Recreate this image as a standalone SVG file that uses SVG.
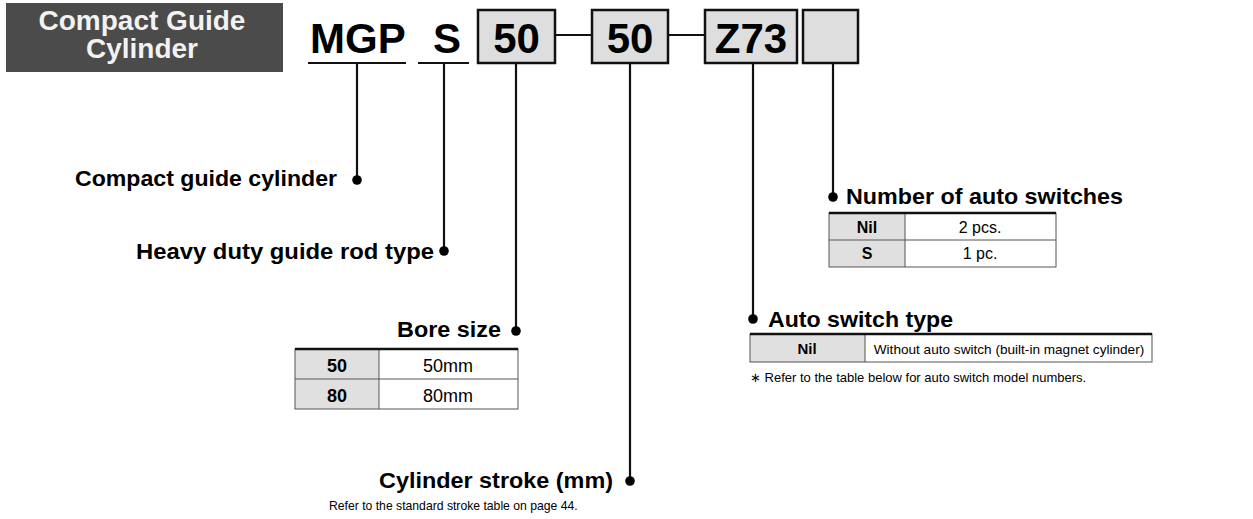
<svg xmlns="http://www.w3.org/2000/svg" width="1253" height="519" viewBox="0 0 1253 519">
<style>
.lbl{font-family:"Liberation Sans",Arial,sans-serif;font-weight:bold;font-size:22px;fill:#000}
.code{font-family:"Liberation Sans",Arial,sans-serif;font-weight:bold;font-size:42px;fill:#000}
.cellb{font-family:"Liberation Sans",Arial,sans-serif;font-weight:bold;fill:#000;text-anchor:middle}
.cell{font-family:"Liberation Sans",Arial,sans-serif;fill:#000;text-anchor:middle}
.note{font-family:"Liberation Sans",Arial,sans-serif;font-size:12.2px;fill:#000}
.hdt{font-family:"Liberation Sans",Arial,sans-serif;font-weight:bold;font-size:28px;fill:#f2f2f2;text-anchor:middle}
.box{fill:#dedede;stroke:#111;stroke-width:2.5}
.ln{stroke:#111;stroke-width:2.2;fill:none}
.hd{fill:#e0e0e0}
.grid{stroke:#555;stroke-width:1;fill:none}
.top{stroke:#111;stroke-width:2.5}
</style>
<g id="header">
<rect x="6" y="3" width="277" height="69" fill="#4b4b4b"/>
<text class="hdt" x="142" y="30">Compact Guide</text>
<text class="hdt" x="142" y="58">Cylinder</text>
</g>
<g id="code-mgp">
<text class="code" x="310" y="53">MGP</text>
<line class="ln" x1="308" y1="63" x2="406" y2="63"/>
</g>
<g id="code-s">
<text class="code" x="433" y="53">S</text>
<line class="ln" x1="418" y1="63" x2="469" y2="63"/>
</g>
<g id="code-bore">
<rect class="box" x="478" y="10" width="77" height="53"/>
<text class="code" x="516.5" y="53" text-anchor="middle">50</text>
</g>
<g id="code-stroke">
<rect class="box" x="592" y="10" width="76" height="53"/>
<text class="code" x="630" y="53" text-anchor="middle">50</text>
</g>
<g id="code-switch">
<rect class="box" x="705" y="10" width="92" height="53"/>
<text class="code" x="751" y="53" text-anchor="middle">Z73</text>
</g>
<g id="code-number">
<rect class="box" x="803" y="10" width="55" height="53"/>
</g>
<g id="connectors">
<line class="ln" x1="555" y1="35" x2="592" y2="35" stroke-width="2.5"/>
<line class="ln" x1="668" y1="35" x2="705" y2="35" stroke-width="2.5"/>
<line class="ln" x1="357" y1="63" x2="357" y2="180"/>
<circle cx="357" cy="180" r="4.8" fill="#000"/>
<line class="ln" x1="444" y1="63" x2="444" y2="251"/>
<circle cx="444" cy="251" r="4.8" fill="#000"/>
<line class="ln" x1="516" y1="63" x2="516" y2="331"/>
<circle cx="516" cy="331" r="4.8" fill="#000"/>
<line class="ln" x1="630" y1="63" x2="630" y2="481"/>
<circle cx="630" cy="481" r="4.8" fill="#000"/>
<line class="ln" x1="753" y1="63" x2="753" y2="319"/>
<circle cx="753" cy="319" r="4.8" fill="#000"/>
<line class="ln" x1="833" y1="63" x2="833" y2="197"/>
<circle cx="833" cy="197" r="4.8" fill="#000"/>
</g>
<g id="label-compact">
<text class="lbl" x="75" y="186" textLength="262" lengthAdjust="spacingAndGlyphs">Compact guide cylinder</text>
</g>
<g id="label-heavy">
<text class="lbl" x="136" y="259" textLength="298" lengthAdjust="spacingAndGlyphs">Heavy duty guide rod type</text>
</g>
<g id="label-bore">
<text class="lbl" x="397" y="337" textLength="104" lengthAdjust="spacingAndGlyphs">Bore size</text>
<rect class="hd" x="295" y="349" width="84" height="60"/>
<rect class="grid" x="295" y="349" width="223" height="60"/>
<line class="grid" x1="295" y1="379" x2="518" y2="379"/>
<line class="grid" x1="379" y1="349" x2="379" y2="409"/>
<line class="top" x1="295" y1="349" x2="518" y2="349"/>
<text class="cellb" x="337" y="372" font-size="18">50</text>
<text class="cell" x="448" y="372" font-size="18">50mm</text>
<text class="cellb" x="337" y="402" font-size="18">80</text>
<text class="cell" x="448" y="402" font-size="18">80mm</text>
</g>
<g id="label-stroke">
<text class="lbl" x="379" y="488" textLength="234" lengthAdjust="spacingAndGlyphs">Cylinder stroke (mm)</text>
<text class="note" x="329" y="510">Refer to the standard stroke table on page 44.</text>
</g>
<g id="label-switch">
<text class="lbl" x="768" y="327" textLength="185" lengthAdjust="spacingAndGlyphs">Auto switch type</text>
<rect class="hd" x="750" y="334" width="115" height="28"/>
<rect class="grid" x="750" y="334" width="402" height="28"/>
<line class="grid" x1="865" y1="334" x2="865" y2="362"/>
<line class="top" x1="750" y1="334" x2="1152" y2="334"/>
<text class="cellb" x="807" y="354" font-size="15">Nil</text>
<text class="cell" x="1009" y="354" font-size="13.6">Without auto switch (built-in magnet cylinder)</text>
<text class="note" x="750" y="382" style="font-size:13px">∗ Refer to the table below for auto switch model numbers.</text>
</g>
<g id="label-number">
<text class="lbl" x="846" y="204" textLength="277" lengthAdjust="spacingAndGlyphs">Number of auto switches</text>
<rect class="hd" x="829" y="213" width="76" height="54"/>
<rect class="grid" x="829" y="213" width="227" height="54"/>
<line class="grid" x1="829" y1="240" x2="1056" y2="240"/>
<line class="grid" x1="905" y1="213" x2="905" y2="267"/>
<line class="top" x1="829" y1="213" x2="1056" y2="213"/>
<text class="cellb" x="867" y="233" font-size="16">Nil</text>
<text class="cell" x="980" y="233" font-size="16">2 pcs.</text>
<text class="cellb" x="867" y="259" font-size="16">S</text>
<text class="cell" x="980" y="259" font-size="16">1 pc.</text>
</g>
</svg>
